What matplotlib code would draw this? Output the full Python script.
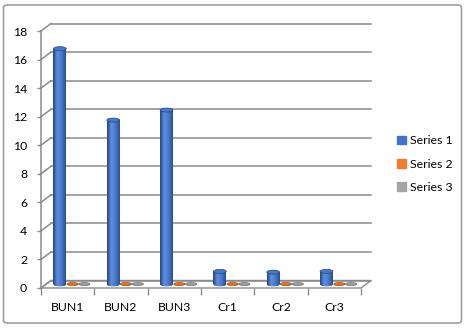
import numpy as np
import matplotlib.pyplot as plt
from matplotlib.patches import Ellipse, Patch, Rectangle, FancyBboxPatch, Polygon
from matplotlib.colors import LinearSegmentedColormap

categories = ['BUN1', 'BUN2', 'BUN3', 'Cr1', 'Cr2', 'Cr3']
series1 = [16.5, 11.5, 12.2, 0.9, 0.85, 0.9]
series2 = [0.02, 0.02, 0.02, 0.02, 0.02, 0.02]
series3 = [0.02, 0.02, 0.02, 0.02, 0.02, 0.02]
names = ['Series 1', 'Series 2', 'Series 3']
colors = ['#4472C4', '#ED7D31', '#A5A5A5']
yticks = [0, 2, 4, 6, 8, 10, 12, 14, 16, 18]

plt.rcParams['font.family'] = ['Lato', 'DejaVu Sans']

W, H = 469, 328
fig = plt.figure(figsize=(W / 100, H / 100), dpi=100)
fig.patches.append(FancyBboxPatch((3.5 / W, 5 / H), 458 / W, 318 / H,
                                  boxstyle='round,pad=0,rounding_size=0.008',
                                  transform=fig.transFigure, fc='none', ec='#a0a0a0',
                                  lw=1.2, zorder=-1))

# front plane of the 3d box
ax = fig.add_axes([41 / W, 1 - 288 / H, 320 / W, 257 / H])
ax.set_xlim(0, 6)
ax.set_ylim(0, 18)
ax.patch.set_visible(False)
for s in ax.spines.values():
    s.set_visible(False)

# depth offset in data units (10 px right, 7.5 px up)
DX = 10 / (320 / 6)
DY = 7.5 / (257 / 18)
gc = '#8a8a8a'

floor = Polygon([(0, 0), (6, 0), (6 + DX, DY), (DX, DY)], closed=True,
                fc='white', ec=gc, lw=1.0, clip_on=False, zorder=1)
ax.add_patch(floor)
for v in yticks:
    ax.plot([DX, 6 + DX], [v + DY, v + DY], color=gc, lw=1.1, clip_on=False, zorder=1)
    ax.plot([0, DX], [v, v + DY], color=gc, lw=1.1, clip_on=False, zorder=1)
ax.plot([0, 0], [0, 18], color=gc, lw=1.1, clip_on=False, zorder=2)

ax.set_yticks(yticks)
ax.set_yticklabels([str(v) for v in yticks])
ax.set_xticks(np.arange(6) + 0.5)
ax.set_xticklabels(categories)
ax.set_xticks(np.arange(7), minor=True)
ax.tick_params(axis='y', length=3, width=1, color=gc, pad=7, labelsize=8.8)
ax.tick_params(axis='x', which='major', length=0, pad=10, labelsize=8.8)
ax.tick_params(axis='x', which='minor', length=5, width=1, color=gc)

shades = {
    '#4472C4': ['#26457f', '#5f8fe0', '#4a78c9', '#2b4f92'],
    '#ED7D31': ['#a9531b', '#f39a5c', '#e0742b', '#b05a1f'],
    '#A5A5A5': ['#777777', '#c2c2c2', '#a0a0a0', '#7c7c7c'],
}
offsets = [-0.24, 0.0, 0.22]
widths = [0.24, 0.21, 0.21]
grad = np.linspace(0, 1, 64).reshape(1, -1)
x = np.arange(6) + 0.5 + DX / 2
for vals, off, w, col in zip([series1, series2, series3], offsets, widths, colors):
    cmap = LinearSegmentedColormap.from_list('c', shades[col])
    eh = 0.28 if col == '#4472C4' else 0.2
    bars = ax.bar(x + off, vals, width=w, bottom=DY / 2, color=col, lw=0, zorder=3)
    for b in bars:
        x0, w0, h0 = b.get_x(), b.get_width(), b.get_height()
        bot = Ellipse((x0 + w0 / 2, DY / 2), w0, eh, zorder=3, clip_on=False)
        ax.add_patch(bot)
        im = ax.imshow(grad, cmap=cmap, extent=[x0, x0 + w0, DY / 2 - eh / 2, DY / 2 + h0],
                       aspect='auto', zorder=3)
        clip = Rectangle((x0, DY / 2), w0, h0, transform=ax.transData)
        im.set_clip_path(clip)
        bot.set_facecolor(shades[col][3])
        im2 = ax.imshow(grad, cmap=cmap, extent=[x0, x0 + w0, DY / 2 - eh / 2, DY / 2 + eh / 2],
                        aspect='auto', zorder=3)
        im2.set_clip_path(bot)
        ax.add_patch(Ellipse((x0 + w0 / 2, DY / 2 + h0), w0, eh, fc=shades[col][2],
                             ec=shades[col][0], lw=0.5, zorder=4))
ax.set_xlim(0, 6)
ax.set_ylim(0, 18)

handles = [Patch(color=c, label=n) for c, n in zip(colors, names)]
fig.legend(handles=handles, loc='center left', bbox_to_anchor=(386 / W, 1 - 164 / H),
           frameon=False, fontsize=8.8, handlelength=0.7, handleheight=0.7,
           handletextpad=0.4, labelspacing=1.0)

fig.savefig('out.png', dpi=100)
